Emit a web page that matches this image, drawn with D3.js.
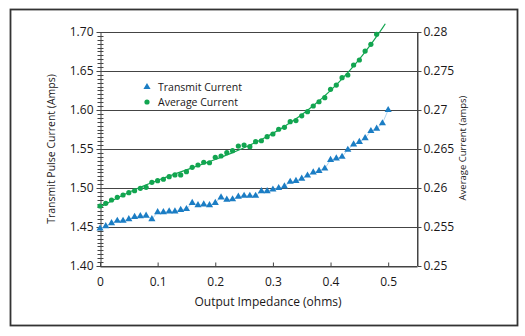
<!DOCTYPE html>
<html>
<head>
<meta charset="utf-8">
<script src="https://cdn.jsdelivr.net/npm/d3@7"></script>
<style>
  body { margin: 0; background: #fff; }
  svg text { font-family: "Open Sans", sans-serif; fill: #1a1718; }
</style>
</head>
<body>
<script>
// output impedance (ohms) for each measurement
var impedance = [0, 0.01, 0.02, 0.03, 0.04, 0.05, 0.06, 0.07, 0.08, 0.09,
  0.10, 0.11, 0.12, 0.13, 0.14, 0.15, 0.16, 0.17, 0.18, 0.19,
  0.20, 0.21, 0.22, 0.23, 0.24, 0.25, 0.26, 0.27, 0.28, 0.29,
  0.30, 0.31, 0.32, 0.33, 0.34, 0.35, 0.36, 0.37, 0.38, 0.39,
  0.40, 0.41, 0.42, 0.43, 0.44, 0.45, 0.46, 0.47, 0.48, 0.49, 0.50];

// transmit pulse current (Amps), left axis
var transmitCurrent = [1.448, 1.451, 1.455, 1.458, 1.458, 1.460, 1.463, 1.464, 1.4645, 1.460,
  1.469, 1.469, 1.470, 1.470, 1.472, 1.473, 1.481, 1.478, 1.479, 1.478,
  1.481, 1.488, 1.485, 1.4855, 1.489, 1.490, 1.490, 1.490, 1.496, 1.496,
  1.498, 1.500, 1.502, 1.508, 1.509, 1.512, 1.516, 1.520, 1.522, 1.525,
  1.536, 1.538, 1.540, 1.549, 1.556, 1.559, 1.564, 1.573, 1.576, 1.583, 1.600];

// average current (amps), right axis - measured up to 0.48 ohms
var averageCurrent = [0.25769, 0.25804, 0.25846, 0.25881, 0.2591, 0.2594, 0.25965, 0.25996, 0.26009, 0.26073,
  0.26094, 0.26112, 0.26145, 0.26167, 0.26167, 0.26209, 0.26265, 0.26295, 0.26330, 0.26324,
  0.26394, 0.2641, 0.26453, 0.26478, 0.26538, 0.26551, 0.2653, 0.26594, 0.26606, 0.26658,
  0.26692, 0.26753, 0.26778, 0.2685, 0.26865, 0.26925, 0.26978, 0.27051, 0.27106, 0.27158,
  0.27265, 0.2732, 0.27414, 0.27449, 0.27577, 0.27641, 0.27756, 0.27842, 0.27971];

var xTicks = [0, 0.1, 0.2, 0.3, 0.4, 0.5];
var xTickLabels = ['0', '0.1', '0.2', '0.3', '0.4', '0.5'];
var leftTicks = [1.40, 1.45, 1.50, 1.55, 1.60, 1.65, 1.70];
var leftTickLabels = ['1.40', '1.45', '1.50', '1.55', '1.60', '1.65', '1.70'];
var rightTicks = [0.25, 0.255, 0.26, 0.265, 0.27, 0.275, 0.28];
var rightTickLabels = ['0.25', '0.255', '0.26', '0.265', '0.27', '0.275', '0.28'];

var blue = '#1b7dc4';
var green = '#12a550';

var svg = d3.select('body').append('svg')
  .attr('width', 525)
  .attr('height', 336);

// outer frame
svg.append('rect')
  .attr('x', 10.5)
  .attr('y', 9.5)
  .attr('width', 507)
  .attr('height', 316)
  .attr('fill', 'none')
  .attr('stroke', '#333')
  .attr('stroke-width', 1.8);

var plotLeft = 100, plotRight = 417, plotTop = 32, plotBottom = 266;

var x = d3.scaleLinear().domain([0, 0.55]).range([plotLeft, plotRight]);
var yL = d3.scaleLinear().domain([1.40, 1.70]).range([plotBottom, plotTop]);
var yR = d3.scaleLinear().domain([0.25, 0.28]).range([plotBottom, plotTop]);

// horizontal grid lines
svg.append('g')
  .selectAll('line')
  .data(leftTicks)
  .enter()
  .append('line')
  .attr('x1', plotLeft)
  .attr('x2', plotRight)
  .attr('y1', (d) => Math.round(yL(d)) + 0.5)
  .attr('y2', (d) => Math.round(yL(d)) + 0.5)
  .attr('stroke', '#444')
  .attr('stroke-width', 1);

// right border of the plot
svg.append('line')
  .attr('x1', plotRight + 0.5).attr('x2', plotRight + 0.5)
  .attr('y1', plotTop).attr('y2', plotBottom)
  .attr('stroke', '#444');

// left axis
var leftAxis = svg.append('g')
  .attr('transform', `translate(${plotLeft + 0.5}, 0)`)
  .call(d3.axisLeft(yL)
    .tickValues(leftTicks)
    .tickFormat((d, i) => leftTickLabels[i])
    .tickSizeInner(4)
    .tickSizeOuter(0)
    .tickPadding(3));

// minor ticks crossing the left axis
var minor = d3.range(1.405, 1.70, 0.005).filter((v) => Math.abs(v * 20 - Math.round(v * 20)) > 0.01);
svg.append('g')
  .selectAll('line')
  .data(minor)
  .enter()
  .append('line')
  .attr('x1', plotLeft - 2.5)
  .attr('x2', plotLeft + 3.5)
  .attr('y1', (d) => Math.round(yL(d)) + 0.5)
  .attr('y2', (d) => Math.round(yL(d)) + 0.5)
  .attr('stroke', '#444');

// right axis
var rightAxis = svg.append('g')
  .attr('transform', `translate(${plotRight + 0.5}, 0)`)
  .call(d3.axisRight(yR)
    .tickValues(rightTicks)
    .tickFormat((d, i) => rightTickLabels[i])
    .tickSizeInner(4)
    .tickSizeOuter(0)
    .tickPadding(2));

// bottom axis, ticks pointing up
var bottomAxis = svg.append('g')
  .attr('transform', `translate(0, ${plotBottom + 0.5})`)
  .call(d3.axisBottom(x)
    .tickValues(xTicks)
    .tickFormat((d, i) => xTickLabels[i])
    .tickSizeInner(-4)
    .tickSizeOuter(0)
    .tickPadding(11));

[leftAxis, rightAxis, bottomAxis].forEach((g) => {
  g.selectAll('path, line').attr('stroke', '#444');
  g.selectAll('text').attr('font-size', 12).attr('font-family', null).attr('fill', '#1a1718');
});

// axis titles
svg.append('text')
  .attr('transform', 'translate(55, 149) rotate(-90)')
  .attr('text-anchor', 'middle')
  .attr('font-size', 10.5)
  .text('Transmit Pulse Current (Amps)');

svg.append('text')
  .attr('transform', 'translate(466, 148) rotate(-90)')
  .attr('text-anchor', 'middle')
  .attr('font-size', 9.5)
  .text('Average Current (amps)');

svg.append('text')
  .attr('x', 268)
  .attr('y', 306)
  .attr('text-anchor', 'middle')
  .attr('font-size', 12)
  .text('Output Impedance (ohms)');

// cubic least-squares trendline for the average current
function polyFit(xs, ys, deg) {
  var n = deg + 1;
  var A = [], b = [];
  for (var r = 0; r < n; r++) {
    A.push([]);
    for (var c = 0; c < n; c++) {
      A[r].push(d3.sum(xs, (v) => Math.pow(v, r + c)));
    }
    b.push(d3.sum(xs, (v, i) => Math.pow(v, r) * ys[i]));
  }
  for (var k = 0; k < n; k++) {
    for (var r2 = k + 1; r2 < n; r2++) {
      var f = A[r2][k] / A[k][k];
      for (var c2 = k; c2 < n; c2++) A[r2][c2] -= f * A[k][c2];
      b[r2] -= f * b[k];
    }
  }
  var coef = new Array(n).fill(0);
  for (var k2 = n - 1; k2 >= 0; k2--) {
    var s = b[k2];
    for (var c3 = k2 + 1; c3 < n; c3++) s -= A[k2][c3] * coef[c3];
    coef[k2] = s / A[k2][k2];
  }
  return (v) => d3.sum(coef, (cf, i) => cf * Math.pow(v, i));
}

var avgX = impedance.slice(0, averageCurrent.length);
var trend = polyFit(avgX, averageCurrent, 3);
var trendPts = d3.range(0, 0.4951, 0.005).map((v) => [v, trend(v)]);

svg.append('path')
  .datum(trendPts)
  .attr('fill', 'none')
  .attr('stroke', green)
  .attr('stroke-width', 1.2)
  .attr('d', d3.line().x((d) => x(d[0])).y((d) => yR(d[1])));

// thin line joining the transmit points
svg.append('path')
  .datum(transmitCurrent)
  .attr('fill', 'none')
  .attr('stroke', '#a6cfee')
  .attr('stroke-width', 0.9)
  .attr('d', d3.line().x((d, i) => x(impedance[i])).y((d) => yL(d)));

svg.append('g')
  .selectAll('circle')
  .data(averageCurrent)
  .enter()
  .append('circle')
  .attr('cx', (d, i) => x(impedance[i]))
  .attr('cy', (d) => yR(d))
  .attr('r', 2.6)
  .attr('fill', green);

var tri = d3.symbol().type(d3.symbolTriangle).size(22);
svg.append('g')
  .selectAll('path')
  .data(transmitCurrent)
  .enter()
  .append('path')
  .attr('d', tri)
  .attr('transform', (d, i) => `translate(${x(impedance[i])}, ${yL(d)})`)
  .attr('fill', blue);

// legend
var legend = svg.append('g');
legend.append('path')
  .attr('d', tri)
  .attr('transform', 'translate(147, 87)')
  .attr('fill', blue);
legend.append('circle')
  .attr('cx', 147)
  .attr('cy', 102)
  .attr('r', 2.6)
  .attr('fill', green);
legend.append('text')
  .attr('x', 158)
  .attr('y', 91)
  .attr('font-size', 10.5)
  .text('Transmit Current');
legend.append('text')
  .attr('x', 158)
  .attr('y', 106)
  .attr('font-size', 10.5)
  .text('Average Current');
</script>
</body>
</html>
